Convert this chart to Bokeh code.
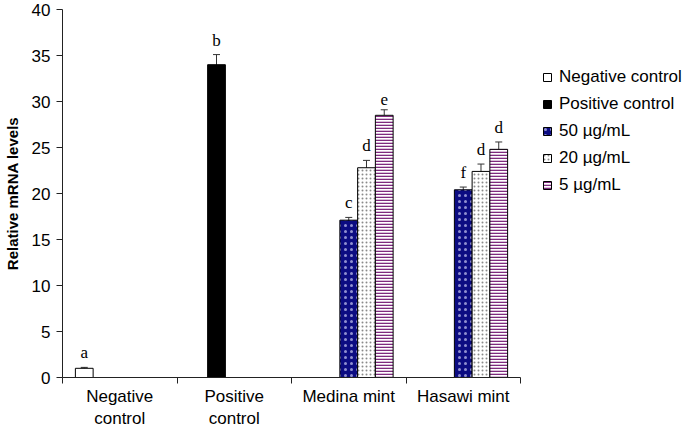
from bokeh.plotting import figure
from bokeh.models import (ColumnDataSource, Whisker, TeeHead, Legend, LegendItem,
                          FixedTicker, Range1d)
from bokeh.core.properties import value
from bokeh.embed import file_html
from bokeh.resources import INLINE

# ---------------- data ----------------
categories = ["Negative\ncontrol", "Positive\ncontrol", "Medina mint", "Hasawi mint"]
series_names = ["Negative control", "Positive control", "50 µg/mL", "20 µg/mL", "5 µg/mL"]

negative_control = [1.0, None, None, None]
positive_control = [None, 34.0, None, None]
conc_50 = [None, None, 17.1, 20.4]
conc_20 = [None, None, 22.8, 22.4]
conc_5 = [None, None, 28.5, 24.8]

err_negative = [0.1, None, None, None]
err_positive = [None, 1.1, None, None]
err_50 = [None, None, 0.3, 0.3]
err_20 = [None, None, 0.8, 0.8]
err_5 = [None, None, 0.6, 0.8]

letters_negative = ["a", None, None, None]
letters_positive = [None, "b", None, None]
letters_50 = [None, None, "c", "f"]
letters_20 = [None, None, "d", "d"]
letters_5 = [None, None, "e", "d"]

y_ticks = [0, 5, 10, 15, 20, 25, 30, 35, 40]

series_values = [negative_control, positive_control, conc_50, conc_20, conc_5]
series_errors = [err_negative, err_positive, err_50, err_20, err_5]
series_letters = [letters_negative, letters_positive, letters_50, letters_20, letters_5]

# ---------------- styles ----------------
styles = [
    dict(fill_color="white", line_color="black"),
    dict(fill_color="black", line_color="black"),
    dict(fill_color="#0c0c82", line_color="black", hatch_pattern="dot",
         hatch_color="#9090d0", hatch_scale=6, hatch_weight=0.9),
    dict(fill_color="white", line_color="black", hatch_pattern="dot",
         hatch_color="#8a8a8a", hatch_scale=4, hatch_weight=1.0),
    dict(fill_color="white", line_color="black", hatch_pattern="horizontal_line",
         hatch_color="#7e2a7e", hatch_scale=3, hatch_weight=1.6),
]

BAR_W = 0.155

p = figure(frame_width=458, frame_height=368, output_backend="svg", toolbar_location=None,
           x_range=Range1d(-0.5, 3.5), y_range=Range1d(0, 40),
           min_border_left=62, min_border_right=163, min_border_top=9,
           min_border_bottom=46)
p.outline_line_color = None
p.xgrid.grid_line_color = None
p.ygrid.grid_line_color = None
p.background_fill_color = "white"
p.border_fill_color = "white"

legend_items = []
for i, (name, vals, errs, lets) in enumerate(zip(series_names, series_values,
                                                   series_errors, series_letters)):
    xs, ys, ups, los, ts = [], [], [], [], []
    for c, v in enumerate(vals):
        if v is None:
            continue
        xs.append(c + (i - 2) * BAR_W)
        ys.append(v)
        ups.append(v + errs[c])
        los.append(v - errs[c])
        ts.append(lets[c])
    src = ColumnDataSource(dict(x=xs, top=ys, upper=ups, lower=los, label=ts))
    r = p.vbar(x="x", top="top", width=BAR_W, bottom=0, source=src,
               line_width=1, **styles[i])
    legend_items.append(LegendItem(label=name, renderers=[r]))
    w = Whisker(base="x", upper="upper", lower="lower", source=src,
                line_color="#333333", line_width=1,
                upper_head=TeeHead(size=7, line_color="#333333", line_width=1),
                lower_head=TeeHead(size=7, line_color="#333333", line_width=1))
    p.add_layout(w)
    p.text(x="x", y="upper", text="label", source=src,
           text_font=value("Liberation Serif"), text_font_size="17px",
           text_align="center", text_baseline="bottom", y_offset=-5,
           text_color="black")

# ---------------- axes ----------------
yax = p.yaxis[0]
yax.ticker = FixedTicker(ticks=y_ticks)
yax.axis_label = "Relative mRNA levels"
yax.axis_label_text_font = "Liberation Sans"
yax.axis_label_text_font_style = "bold"
yax.axis_label_text_font_size = "15px"
yax.axis_label_text_color = "black"
yax.axis_label_standoff = 8
yax.major_label_text_font = "Liberation Sans"
yax.major_label_text_font_size = "17px"
yax.major_label_text_color = "black"
yax.major_label_standoff = 6
yax.major_tick_out = 6
yax.major_tick_in = 0
yax.minor_tick_line_color = None
yax.axis_line_color = "#222222"
yax.major_tick_line_color = "#222222"

xax = p.xaxis[0]
xax.ticker = FixedTicker(ticks=[0, 1, 2, 3], minor_ticks=[-0.5, 0.5, 1.5, 2.5, 3.5])
xax.major_label_overrides = {i: c for i, c in enumerate(categories)}
xax.major_label_text_font = "Liberation Sans"
xax.major_label_text_font_size = "17px"
xax.major_label_text_color = "black"
xax.major_label_standoff = 3
xax.major_tick_line_color = None
xax.major_tick_out = 0
xax.major_tick_in = 0
xax.minor_tick_out = 6
xax.minor_tick_in = 0
xax.minor_tick_line_color = "#222222"
xax.axis_line_color = "#222222"

# ---------------- legend ----------------
legend = Legend(items=legend_items, location=(22, 182), padding=0, margin=0,
                border_line_color=None, background_fill_alpha=0,
                glyph_width=10, glyph_height=10, label_height=20, spacing=7,
                label_standoff=7, label_text_font="Liberation Sans",
                label_text_font_size="17px", label_text_color="black")
p.add_layout(legend, "right")

open("out.html", "w").write(file_html(p, INLINE))
